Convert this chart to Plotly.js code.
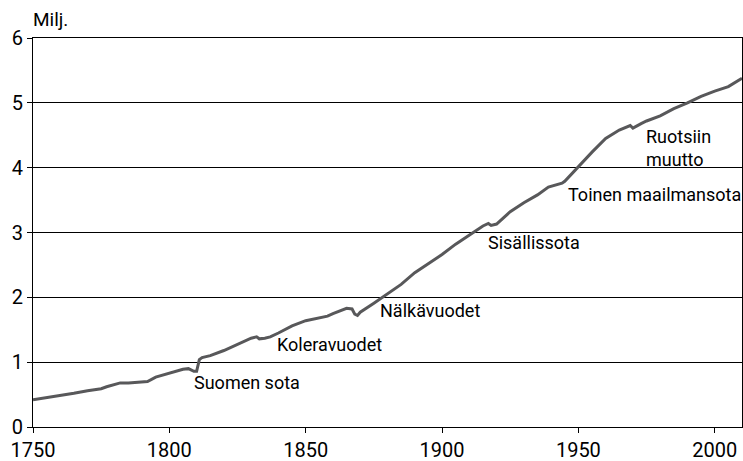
<!DOCTYPE html>
<html>
<head>
<meta charset="utf-8">
<script src="https://cdn.plot.ly/plotly-3.0.1.min.js"></script>
<style>html,body{margin:0;padding:0;background:#fff}#chart{width:743px;height:461px}</style>
</head>
<body>
<div id="chart"></div>
<script>
const years = [1750,1755,1760,1765,1770,1775,1777,1780,1782,1785,1790,1792,1795,1800,1805,1807,1809,1810,1811,1812,1815,1820,1825,1830,1832,1833,1835,1837,1840,1845,1850,1855,1858,1860,1865,1867,1868,1869,1870,1875,1880,1885,1890,1895,1900,1905,1910,1915,1917,1918,1920,1925,1930,1935,1939,1940,1944,1945,1950,1955,1960,1965,1969,1970,1973,1975,1980,1985,1990,1995,2000,2005,2010];
const population = [0.42,0.45,0.48,0.52,0.56,0.59,0.62,0.66,0.68,0.68,0.69,0.70,0.77,0.83,0.89,0.90,0.86,0.86,1.04,1.07,1.10,1.18,1.27,1.37,1.39,1.36,1.37,1.39,1.45,1.56,1.64,1.69,1.71,1.75,1.83,1.82,1.74,1.72,1.77,1.91,2.06,2.20,2.38,2.52,2.66,2.82,2.96,3.10,3.14,3.11,3.13,3.32,3.46,3.58,3.70,3.71,3.76,3.79,4.02,4.24,4.45,4.58,4.65,4.61,4.68,4.72,4.80,4.91,5.00,5.10,5.18,5.25,5.38];
const xTicks = [1750,1800,1850,1900,1950,2000];
const yTicks = [0,1,2,3,4,5,6];
const events = ["Suomen sota","Koleravuodet","Nälkävuodet","Sisällissota","Toinen maailmansota","Ruotsiin<br>muutto"];
const eventX = [1808.3,1838.8,1876.6,1916.2,1945.6,1973.9];
const eventY = [0.69,1.27,1.79,2.84,3.58,4.31];
const yUnit = "Milj.";

const font = "Roboto, 'Open Sans', sans-serif";
const annotations = events.map((t,i)=>({
  text:t, x:eventX[i], y:eventY[i], xref:'x', yref:'y',
  xanchor:'left', yanchor:'middle', showarrow:false, align:'left',
  font:{family:font, size:18, color:'#000'}
}));
annotations.push({text:yUnit, xref:'paper', yref:'paper', x:0, y:1, xanchor:'left', yanchor:'bottom', yshift:5, xshift:-2, showarrow:false, font:{family:font,size:19,color:'#000'}});

Plotly.newPlot('chart',[{
  x:years, y:population, type:'scatter', mode:'lines',
  line:{color:'#58585a', width:3}, hoverinfo:'skip'
}],{
  width:743, height:461,
  margin:{l:33, r:1, t:38, b:34},
  paper_bgcolor:'#fff', plot_bgcolor:'#fff',
  showlegend:false,
  font:{family:font, color:'#000'},
  xaxis:{range:[1750,2010], tickvals:xTicks, ticktext:xTicks.map(String), ticks:'outside', ticklen:5, tickcolor:'#000',
    showline:true, linecolor:'#000', linewidth:1, mirror:true, showgrid:false, zeroline:false,
    tickfont:{family:font,size:20,color:'#000'}},
  yaxis:{range:[0,6], tickvals:yTicks, ticktext:yTicks.map(String), ticks:'outside', ticklen:5, tickcolor:'#000',
    showline:true, linecolor:'#000', linewidth:1, mirror:true, showgrid:true, gridcolor:'#000', gridwidth:1, zeroline:false,
    tickfont:{family:font,size:20,color:'#000'}},
  annotations:annotations
},{staticPlot:true});
</script>
</body>
</html>
